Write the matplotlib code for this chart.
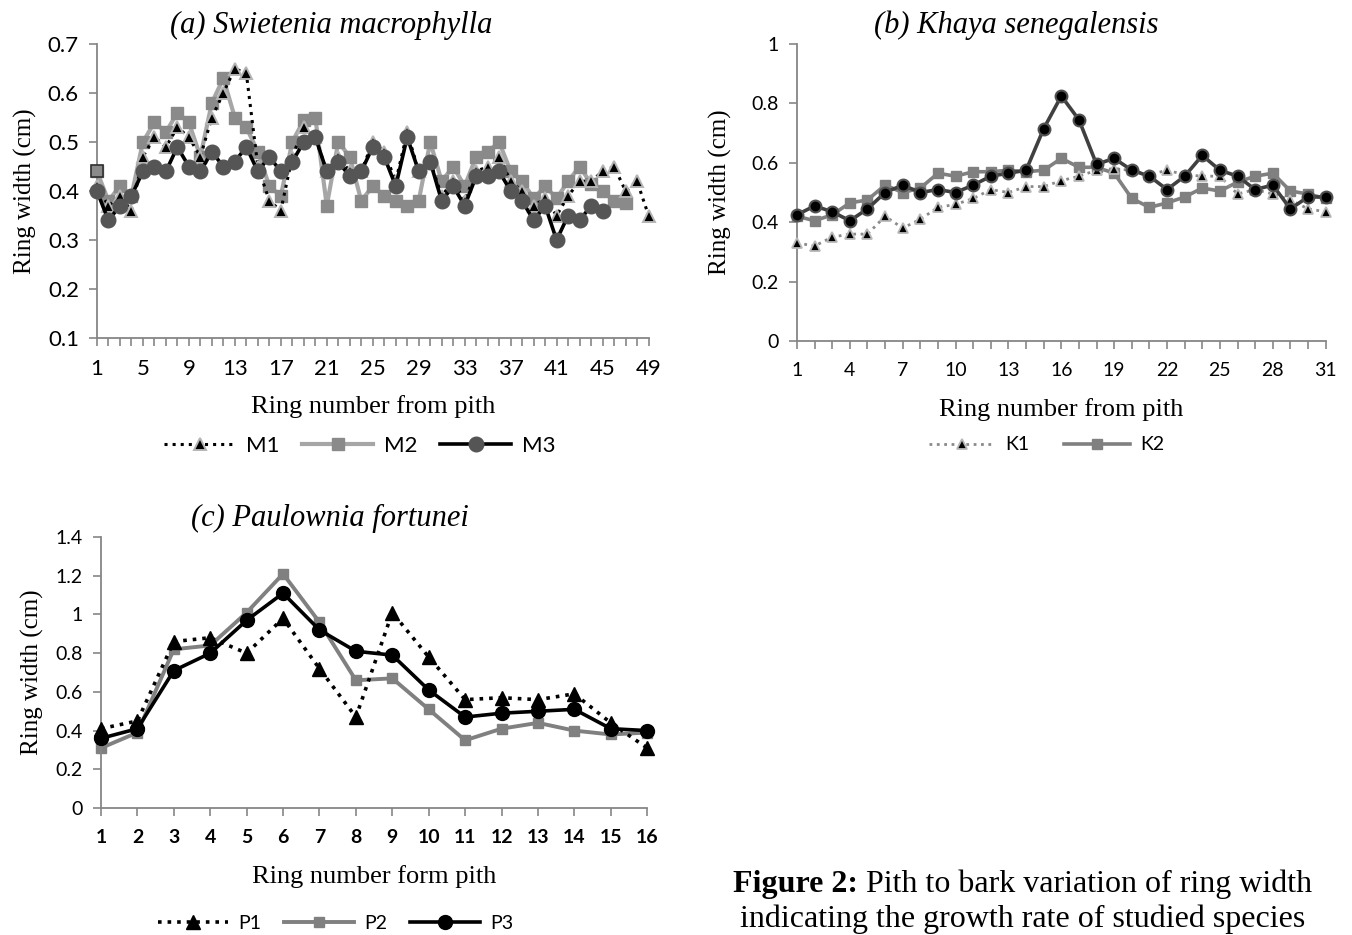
import matplotlib.pyplot as plt
import numpy as np
from matplotlib.ticker import MultipleLocator, FuncFormatter

# ---- data ----
# (a) Swietenia macrophylla
m1 = [0.41, 0.37, 0.39, 0.36, 0.47, 0.51, 0.49, 0.53, 0.51, 0.47,
      0.55, 0.60, 0.65, 0.64, 0.45, 0.38, 0.36, 0.47, 0.53, 0.51,
      0.44, 0.47, 0.44, 0.44, 0.50, 0.48, 0.42, 0.52, 0.44, 0.46,
      0.39, 0.42, 0.38, 0.44, 0.45, 0.47, 0.42, 0.40, 0.37, 0.385,
      0.35, 0.39, 0.42, 0.42, 0.44, 0.45, 0.40, 0.42, 0.35]
m2 = [0.44, 0.38, 0.41, 0.39, 0.50, 0.54, 0.52, 0.56, 0.54, 0.47,
      0.58, 0.63, 0.55, 0.53, 0.48, 0.41, 0.39, 0.50, 0.545, 0.55,
      0.37, 0.50, 0.47, 0.38, 0.41, 0.39, 0.38, 0.37, 0.38, 0.50,
      0.42, 0.45, 0.41, 0.47, 0.48, 0.50, 0.44, 0.42, 0.385, 0.41,
      0.385, 0.42, 0.45, 0.415, 0.40, 0.38, 0.375]
m3 = [0.40, 0.34, 0.37, 0.39, 0.44, 0.45, 0.44, 0.49, 0.45, 0.44,
      0.48, 0.45, 0.46, 0.49, 0.44, 0.47, 0.44, 0.46, 0.50, 0.51,
      0.44, 0.46, 0.43, 0.44, 0.49, 0.47, 0.41, 0.51, 0.44, 0.46,
      0.38, 0.41, 0.37, 0.43, 0.43, 0.44, 0.40, 0.38, 0.34, 0.37,
      0.30, 0.35, 0.34, 0.37, 0.36]

# (b) Khaya senegalensis
k1 = [0.33, 0.32, 0.35, 0.36, 0.36, 0.42, 0.38, 0.41, 0.45, 0.46,
      0.48, 0.51, 0.50, 0.52, 0.52, 0.54, 0.555, 0.575, 0.58, 0.575,
      0.56, 0.575, 0.56, 0.555, 0.555, 0.495, 0.51, 0.495, 0.475, 0.445,
      0.435]
k2 = [0.42, 0.405, 0.425, 0.465, 0.475, 0.525, 0.50, 0.515, 0.565, 0.555,
      0.57, 0.57, 0.575, 0.57, 0.575, 0.615, 0.585, 0.585, 0.565, 0.48,
      0.45, 0.465, 0.485, 0.515, 0.505, 0.535, 0.555, 0.565, 0.505, 0.495,
      0.48]
k3 = [0.425, 0.455, 0.435, 0.405, 0.445, 0.50, 0.525, 0.50, 0.51, 0.50,
      0.525, 0.555, 0.565, 0.575, 0.715, 0.825, 0.745, 0.595, 0.615, 0.575,
      0.555, 0.51, 0.555, 0.625, 0.575, 0.555, 0.51, 0.525, 0.445, 0.485,
      0.485]

# (c) Paulownia fortunei
p1 = [0.41, 0.45, 0.86, 0.88, 0.80, 0.98, 0.72, 0.47, 1.01, 0.78,
      0.56, 0.57, 0.56, 0.59, 0.44, 0.31]
p2 = [0.31, 0.39, 0.82, 0.84, 1.01, 1.21, 0.96, 0.66, 0.67, 0.51,
      0.35, 0.41, 0.44, 0.40, 0.38, 0.39]
p3 = [0.36, 0.41, 0.71, 0.80, 0.97, 1.11, 0.92, 0.81, 0.79, 0.61,
      0.47, 0.49, 0.50, 0.51, 0.41, 0.40]

serif = 'Liberation Serif'
sans = 'Lato'
spine_c = '#868686'

fig = plt.figure(figsize=(13.52, 9.35), dpi=100)


def style_axes(ax, xmax, major, ylo, yhi, ystep, fs, bold_x=False):
    ax.set_xlim(1, xmax)
    ax.set_ylim(ylo, yhi)
    ax.xaxis.set_minor_locator(MultipleLocator(1))
    ax.set_xticks(np.arange(1, xmax + 1, major))
    ax.yaxis.set_major_locator(MultipleLocator(ystep))
    ax.yaxis.set_major_formatter(FuncFormatter(lambda v, p: f"{v:.1f}".rstrip('0').rstrip('.')))
    for s in ['top', 'right']:
        ax.spines[s].set_visible(False)
    for s in ['left', 'bottom']:
        ax.spines[s].set_color(spine_c)
        ax.spines[s].set_linewidth(1.3)
    ax.tick_params(which='both', direction='out', length=6, width=1.2, color=spine_c)
    ax.tick_params(axis='x', labelsize=fs, pad=9)
    ax.tick_params(axis='y', labelsize=fs, pad=7)
    for lab in ax.get_xticklabels() + ax.get_yticklabels():
        lab.set_fontfamily(sans)
    if bold_x:
        for lab in ax.get_xticklabels():
            lab.set_fontweight('bold')


# ---------- (a) ----------
ax1 = fig.add_axes([0.0717, 0.6385, 0.408, 0.3144])
ax1.plot(np.arange(1, len(m1) + 1), m1, ls=':', lw=2.2, color='black', marker='^', ms=8.5,
         mfc='black', mec='#b4b4b4', mew=1.4, label='M1', zorder=3, clip_on=False)
ax1.plot(np.arange(1, len(m2) + 1), m2, ls='-', lw=3, color='#a6a6a6', marker='s', ms=8.5,
         mfc='#8a8a8a', mec='#8a8a8a', label='M2', zorder=2, clip_on=False)
ax1.plot(np.arange(1, 2), m2[:1], ls='none', marker='s', ms=8.5,
         mfc='#8a8a8a', mec='#303030', mew=1.2, zorder=4, clip_on=False)
ax1.plot(np.arange(1, len(m3) + 1), m3, ls='-', lw=2.6, color='black', marker='o', ms=10.5,
         mfc='#555555', mec='#555555', label='M3', zorder=4, clip_on=False)
style_axes(ax1, 49, 4, 0.1, 0.7, 0.1, 16)
ax1.set_title('(a) Swietenia macrophylla', fontfamily=serif, style='italic', fontsize=22,
              x=0.424, pad=8)
ax1.set_ylabel('Ring width (cm)', fontfamily=serif, fontsize=18, labelpad=8)
ax1.set_xlabel('Ring number from pith', fontfamily=serif, fontsize=19, labelpad=12)
ax1.legend(loc='center', bbox_to_anchor=(0.477, -0.367), ncol=3, frameon=False,
           prop={'family': sans, 'size': 16}, handlelength=3.2, columnspacing=1.0,
           handletextpad=0.5)

# ---------- (b) ----------
ax2 = fig.add_axes([0.5895, 0.6353, 0.391, 0.3176])
xb = np.arange(1, len(k1) + 1)
ax2.plot(xb, k1, ls=':', lw=2, color='#8a8a8a', marker='^', ms=7.5,
         mfc='black', mec='#b8b8b8', mew=1.3, label='K1', zorder=3, clip_on=False)
ax2.plot(xb, k2, ls='-', lw=2.6, color='#808080', marker='s', ms=7,
         mfc='#808080', mec='#808080', label='K2', zorder=2, clip_on=False)
ax2.plot(xb, k3, ls='-', lw=2.6, color='#404040', marker='o', ms=8.5,
         mfc='black', mec='#505050', mew=1.5, zorder=4, clip_on=False)
style_axes(ax2, 31, 3, 0, 1, 0.2, 14)
ax2.set_title('(b) Khaya senegalensis', fontfamily=serif, style='italic', fontsize=22,
              x=0.415, pad=8)
ax2.set_ylabel('Ring width (cm)', fontfamily=serif, fontsize=18, labelpad=14)
ax2.set_xlabel('Ring number from pith', fontfamily=serif, fontsize=19, labelpad=14)
ax2.legend(loc='center', bbox_to_anchor=(0.472, -0.35), ncol=2, frameon=False,
           prop={'family': sans, 'size': 14}, handlelength=3.4, columnspacing=1.8,
           handletextpad=0.5)

# ---------- (c) ----------
ax3 = fig.add_axes([0.0747, 0.1358, 0.404, 0.2898])
xc = np.arange(1, len(p1) + 1)
ax3.plot(xc, p1, ls=':', lw=2.6, color='black', marker='^', ms=10,
         mfc='black', mec='black', label='P1', zorder=3, clip_on=False)
ax3.plot(xc, p2, ls='-', lw=2.8, color='#808080', marker='s', ms=7,
         mfc='#808080', mec='#808080', label='P2', zorder=2, clip_on=False)
ax3.plot(xc, p3, ls='-', lw=2.6, color='black', marker='o', ms=10,
         mfc='black', mec='black', label='P3', zorder=4, clip_on=False)
style_axes(ax3, 16, 1, 0, 1.4, 0.2, 14, bold_x=True)
ax3.set_title('(c) Paulownia fortunei', fontfamily=serif, style='italic', fontsize=22,
              x=0.42, pad=8)
ax3.set_ylabel('Ring width (cm)', fontfamily=serif, fontsize=18, labelpad=8)
ax3.set_xlabel('Ring number form pith', fontfamily=serif, fontsize=19, labelpad=14)
ax3.legend(loc='center', bbox_to_anchor=(0.43, -0.425), ncol=3, frameon=False,
           prop={'family': sans, 'size': 14}, handlelength=3.6, columnspacing=1.2,
           handletextpad=0.5)

# ---------- caption ----------
cap_fs = 23
cx = 1023 / 1352
t_bold = fig.text(0, 0.054, 'Figure 2:', fontfamily=serif, fontweight='bold', fontsize=cap_fs,
                  ha='left', va='center')
t_rest = fig.text(0, 0.054, ' Pith to bark variation of ring width', fontfamily=serif,
                  fontsize=cap_fs, ha='left', va='center')
r = fig.canvas.get_renderer()
wb = t_bold.get_window_extent(r).width / fig.bbox.width
wr = t_rest.get_window_extent(r).width / fig.bbox.width
x0 = cx - (wb + wr) / 2
t_bold.set_x(x0)
t_rest.set_x(x0 + wb)
fig.text(cx, 0.017, 'indicating the growth rate of studied species', fontfamily=serif,
         fontsize=cap_fs, ha='center', va='center')

plt.savefig('out.png', dpi=100)
